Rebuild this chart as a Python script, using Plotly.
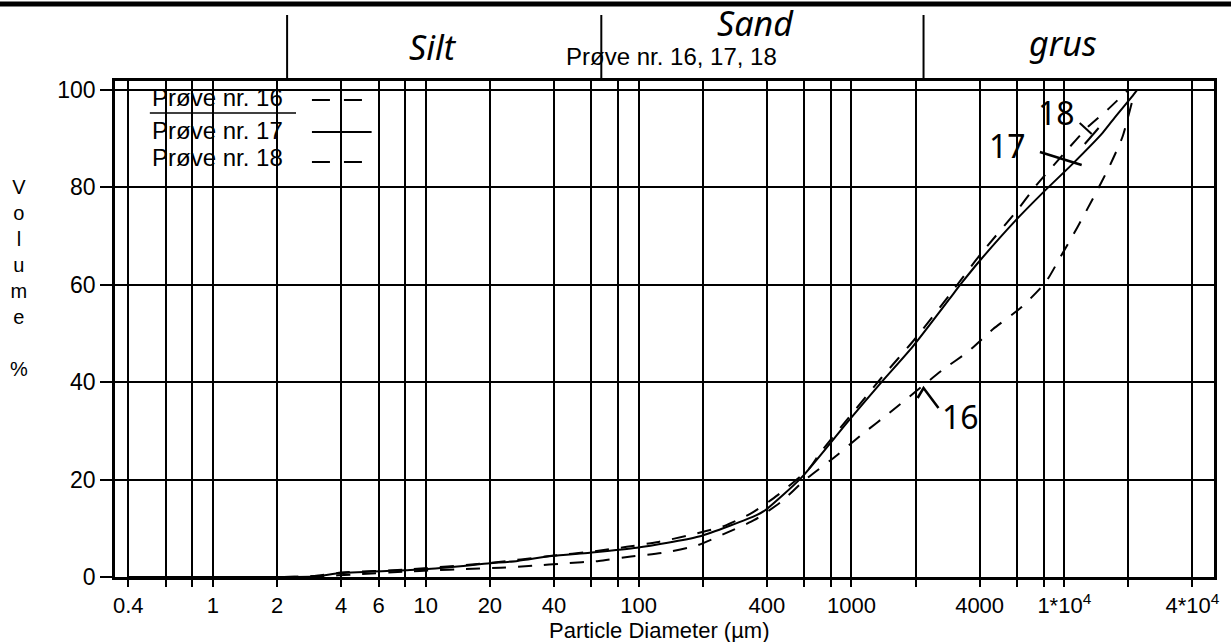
import plotly.graph_objects as go

# ---------------- data ----------------
# x axis: particle diameter (µm), log scale
tick_vals = [0.4, 0.6, 0.8, 1, 2, 4, 6, 8, 10, 20, 40, 60, 80, 100, 200, 400, 600, 800,
             1000, 2000, 4000, 6000, 8000, 10000, 20000, 40000]
tick_text = ["0.4", "", "", "1", "2", "4", "6", "", "10", "20", "40", "", "", "100", "", "400", "", "",
             "1000", "", "4000", "", "", "1*10<sup>4</sup>", "", "4*10<sup>4</sup>"]
y_ticks = [0, 20, 40, 60, 80, 100]

# Prøve nr. 16 (dashed)
d16 = [0.4, 2, 3, 5, 8, 11, 15, 22.5, 32, 45, 65, 92, 131, 186, 260, 350, 466, 600, 855, 1130,
       1510, 2680, 3520, 4630, 6300, 8200, 9480, 11560, 13750, 16300, 18750, 21500]
v16 = [0, 0, 0.1, 0.6, 1.1, 1.4, 1.6, 1.9, 2.3, 2.8, 3.3, 4.2, 5.0, 6.4, 9.1, 11.7, 15.4, 19.8, 25.0, 29.4,
       33.7, 42.5, 46.2, 50.9, 55.4, 60.6, 65.3, 71.9, 78.0, 84.3, 90.3, 100]

# Prøve nr. 17 (solid)
d17 = [0.4, 2, 3, 4, 8, 10, 20, 27, 39, 59, 98, 192, 358, 393, 579, 962, 1390, 1940, 2900, 3330,
       3970, 5850, 8020, 11000, 15100, 17400, 20700, 22000]
v17 = [0, 0, 0.1, 0.8, 1.4, 1.6, 2.8, 3.3, 4.3, 5.0, 6.0, 8.3, 12.7, 13.7, 20.3, 31.9, 40.1, 47.3, 57.2, 60.6,
       64.7, 73.0, 79.1, 84.9, 91.1, 94.5, 98.5, 100]

# Prøve nr. 18 (dashed)
d18 = [0.4, 2, 3, 4, 8, 20, 40, 60, 88, 124, 174, 253, 339, 450, 633, 713, 962, 1390, 2000, 2900,
       4000, 6040, 7360, 10000, 13000, 15960, 20000]
v18 = [0, 0, 0.2, 0.9, 1.5, 2.9, 4.4, 5.2, 6.2, 7.2, 8.6, 10.5, 13.1, 16.8, 22.3, 25.5, 32.5, 41.0, 49.0, 58.0,
       66.0, 75.4, 80.3, 87.0, 92.5, 95.9, 100]

series_names = ["Prøve nr. 16", "Prøve nr. 17", "Prøve nr. 18"]
fractions = ["Silt", "Sand", "grus"]
curve_labels = ["16", "17", "18"]
title_text = "Prøve nr. 16, 17, 18"

# ---------------- figure ----------------
FONT = "Arial, Liberation Sans, sans-serif"
HAND = "Noto Sans, DejaVu Sans, sans-serif"
DASH = "14px,12px"

fig = go.Figure()
for d, v, name, dash in [(d16, v16, series_names[0], DASH),
                         (d17, v17, series_names[1], "solid"),
                         (d18, v18, series_names[2], DASH)]:
    fig.add_trace(go.Scatter(x=d, y=v, mode="lines", name=name, showlegend=False,
                             line=dict(color="black", width=2, dash=dash, shape="spline", smoothing=0.6)))

fig.update_layout(
    width=1231, height=642,
    margin=dict(l=115, r=11, t=81, b=65),
    paper_bgcolor="white", plot_bgcolor="white",
    font=dict(family=FONT, color="black"),
    showlegend=False,
)

fig.update_xaxes(
    type="log", range=[-0.4603, 4.7033],
    tickmode="array", tickvals=tick_vals, ticktext=tick_text,
    ticks="outside", ticklen=7, tickwidth=2, tickcolor="black",
    showgrid=True, gridcolor="black", gridwidth=2,
    showline=True, linecolor="black", linewidth=2.5, mirror=True,
    zeroline=False, tickfont=dict(size=22, family=FONT, color="black"),
)
fig.update_yaxes(
    range=[0, 101.8], tickmode="array", tickvals=y_ticks,
    ticks="outside", ticklen=12, tickwidth=2, tickcolor="black",
    showgrid=True, gridcolor="black", gridwidth=2,
    showline=True, linecolor="black", linewidth=2.5, mirror=True,
    zeroline=False, tickfont=dict(size=23, family=FONT, color="black"),
)

ann = []
# axis titles
ann.append(dict(text="Particle Diameter (µm)", xref="paper", yref="paper", x=0.495, y=-0.108,
                showarrow=False, xanchor="center", yanchor="middle",
                font=dict(size=22, family=FONT, color="black")))
ann.append(dict(text="V<br>o<br>l<br>u<br>m<br>e<br><br>%", xref="paper", yref="paper",
                x=-0.0878, y=0.603, showarrow=False, align="center", xanchor="center", yanchor="middle",
                font=dict(size=20, family=FONT, color="black")))
# header title and fractions
ann.append(dict(text=title_text, xref="paper", yref="paper", x=0.5068, y=1.0504, showarrow=False,
                xanchor="center", yanchor="middle", font=dict(size=24, family=FONT, color="black")))
for txt, x, y in zip(fractions, [0.2896, 0.5828, 0.8624], [1.0685, 1.117, 1.0766]):
    ann.append(dict(text=txt, xref="paper", yref="paper", x=x, y=y, showarrow=False,
                    xanchor="center", yanchor="middle",
                    font=dict(size=34, family=HAND, color="black", style="italic")))
# custom legend (text then line sample)
for txt, y in zip(series_names, [0.9677, 0.9012, 0.8448]):
    ann.append(dict(text=txt, xref="paper", yref="paper", x=0.0317, y=y, showarrow=False,
                    xanchor="left", yanchor="middle", font=dict(size=24, family=FONT, color="black")))
# handwritten curve labels
for txt, x, y in zip(curve_labels, [0.7692, 0.8118, 0.8570], [0.3226, 0.8690, 0.9355]):
    ann.append(dict(text=txt, xref="paper", yref="paper", x=x, y=y, showarrow=False,
                    xanchor="center", yanchor="middle",
                    font=dict(size=32, family=HAND, color="black")))
fig.update_layout(annotations=ann)

shapes = []
line_k = dict(color="black", width=2)
# top thick border of the page header
shapes.append(dict(type="line", xref="paper", yref="paper", x0=-0.11, x1=1.02, y0=1.1552, y1=1.1552,
                   line=dict(color="black", width=5)))
# header dividers
for x in [0.1566, 0.4425, 0.7357]:
    shapes.append(dict(type="line", xref="paper", yref="paper", x0=x, x1=x, y0=1.0, y1=1.1331, line=line_k))
# legend samples
shapes.append(dict(type="line", xref="paper", yref="paper", x0=0.1792, x1=0.2281, y0=0.9617, y1=0.9617,
                   line=dict(color="black", width=2, dash="18px,14px")))
shapes.append(dict(type="line", xref="paper", yref="paper", x0=0.1792, x1=0.2335, y0=0.8972, y1=0.8972,
                   line=line_k))
shapes.append(dict(type="line", xref="paper", yref="paper", x0=0.1792, x1=0.2281, y0=0.8367, y1=0.8367,
                   line=dict(color="black", width=2, dash="18px,14px")))
# underline under first legend entry
shapes.append(dict(type="line", xref="paper", yref="paper", x0=0.0317, x1=0.1647, y0=0.9355, y1=0.9355,
                   line=dict(color="black", width=1.5)))
# handwritten pointers
shapes.append(dict(type="line", xref="paper", yref="paper", x0=0.8416, y0=0.8569, x1=0.8796, y1=0.8306,
                   line=dict(color="black", width=2.5)))
shapes.append(dict(type="line", xref="paper", yref="paper", x0=0.8778, y0=0.9153, x1=0.8887, y1=0.8931,
                   line=line_k))
shapes.append(dict(type="line", xref="paper", yref="paper", x0=0.8950, y0=0.9052, x1=0.8824, y1=0.8730,
                   line=line_k))
shapes.append(dict(type="path", xref="paper", yref="paper",
                   path="M 0.7303 0.3609 L 0.7357 0.3810 L 0.7493 0.3407", line=dict(color="black", width=2.5)))
fig.update_layout(shapes=shapes)

fig.write_html("out.html")
